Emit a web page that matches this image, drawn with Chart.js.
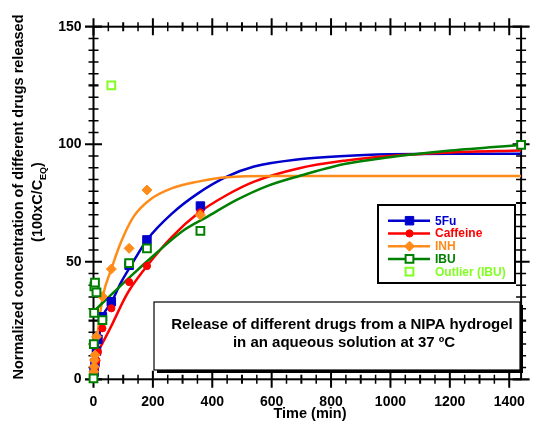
<!DOCTYPE html>
<html>
<head>
<meta charset="utf-8">
<script src="https://cdn.jsdelivr.net/npm/chart.js@4.4.1/dist/chart.umd.min.js"></script>
<style>
  html, body { margin: 0; padding: 0; background: #fff; }
  #wrap { width: 539px; height: 421px; }
</style>
</head>
<body>
<div id="wrap"><canvas id="c" width="539" height="421"></canvas></div>
<script>
// axis ticks
const xTicks = [0, 200, 400, 600, 800, 1000, 1200, 1400]
const yTicks = [0, 50, 100, 150]

// measured points (time in min, normalized conc.)
const fuTime = [2, 5, 10, 15, 30, 60, 120, 180, 360]
const fuVal = [3, 7, 12, 17, 26.6, 33, 48.5, 59.3, 73.7]
const cafTime = [2, 5, 10, 15, 30, 60, 120, 180, 360]
const cafVal = [2, 5, 8, 11.7, 21.7, 30.2, 41.4, 48.2, 71]
const inhTime = [1, 2, 3, 5, 10, 30, 60, 120, 180, 360]
const inhVal = [3.2, 5.4, 8.2, 10.3, 18.1, 35.2, 46.9, 55.7, 80.5, 69.9]
const ibuTime = [0, 1, 2, 3, 5, 10, 30, 120, 180, 360, 1440]
const ibuVal = [0.4, 15, 28.3, 39.5, 41.1, 37, 25.2, 49.4, 55.7, 63.1, 99.7]
const outTime = [60]
const outVal = [125]

// fitted curves
const fuFitT = [3, 10, 20, 31, 45, 61, 91, 124, 180, 265, 352, 449, 541, 693, 845, 997, 1200, 1440]
const fuFitV = [4, 9.6, 19, 26.6, 30, 33, 40.8, 47.9, 59.3, 70.6, 79.1, 86.2, 90.5, 93.6, 95, 95.7, 96, 96]
const cafFitT = [15, 59, 102, 121, 180, 265, 352, 449, 541, 693, 845, 997, 1200, 1440]
const cafFitV = [11.7, 22.4, 33.7, 38, 48.2, 60.7, 70.6, 78.4, 84.1, 89.8, 93, 95, 96.5, 97.3]
const inhFitT = [0, 10, 31.5, 59, 91, 135, 189, 265, 352, 449, 600, 1440]
const inhFitV = [1, 15, 35.2, 46.5, 57.9, 69.2, 76.3, 81.3, 84.1, 86, 86.5, 86.5]
const ibuFitT = [0, 59, 124, 211, 297, 384, 482, 580, 693, 845, 997, 1203, 1440]
const ibuFitV = [28.8, 35.9, 43.7, 53.6, 62.8, 69.2, 76.3, 82, 86.5, 91.6, 94.5, 97.3, 99.7]

const BLUE = "#0000cc", RED = "#ff0000", ORANGE = "#ff8c1a", GREEN = "#008000", LIME = "#80ff20"
const FONT = "'Liberation Sans', Arial, sans-serif"

const pts = (t, v) => t.map((x, i) => ({ x: x, y: v[i] }))

function fit(label, t, v, color, order) {
  return {
    label: label, data: pts(t, v), showLine: true, borderColor: color, borderWidth: 2.5,
    pointRadius: 0, cubicInterpolationMode: "monotone", order: order,
  }
}

// legend entries: [label, colour, pointStyle, filled, hasLine, radius]
const legendItems = [
  ["5Fu", BLUE, "rect", true, true, 6],
  ["Caffeine", RED, "circle", true, true, 3.6],
  ["INH", ORANGE, "rectRot", true, true, 5],
  ["IBU", GREEN, "rect", false, true, 5.5],
  ["Outlier (IBU)", LIME, "rect", false, false, 5.5],
]

// frame with ticks crossing the axes
const framePlugin = {
  id: "frame",
  beforeDatasetsDraw(chart) {
    const { ctx, chartArea: a, scales: { x, y } } = chart
    ctx.save()
    ctx.strokeStyle = "#000"
    ctx.lineWidth = 2
    ctx.strokeRect(a.left, a.top, a.right - a.left, a.bottom - a.top)
    for (let v = 0; v <= 1400; v += 50) {
      const px = x.getPixelForValue(v)
      const len = v % 200 === 0 ? 8.5 : 4.5
      ctx.lineWidth = v % 100 === 0 ? 2 : 1.5
      ctx.beginPath()
      ctx.moveTo(px, a.bottom - len); ctx.lineTo(px, a.bottom + len)
      ctx.moveTo(px, a.top - len); ctx.lineTo(px, a.top + len)
      ctx.stroke()
    }
    for (let v = 0; v <= 150; v += 5) {
      const py = y.getPixelForValue(v)
      const len = v % 50 === 0 ? 8.5 : 5
      ctx.lineWidth = v % 25 === 0 ? 2.2 : 1.5
      ctx.beginPath()
      ctx.moveTo(a.left - len, py); ctx.lineTo(a.left + len, py)
      ctx.moveTo(a.right - len, py); ctx.lineTo(a.right + len, py)
      ctx.stroke()
    }
    ctx.restore()
  },
  afterDraw(chart) {
    const ctx = chart.ctx
    ctx.save()
    ctx.fillStyle = "#000"
    ctx.textAlign = "center"
    ctx.textBaseline = "middle"
    // x title
    ctx.font = "bold 14.5px " + FONT
    ctx.fillText("Time (min)", 310, 414)
    // y title (two lines, rotated)
    ctx.save()
    ctx.translate(18.5, 197)
    ctx.rotate(-Math.PI / 2)
    ctx.fillText("Normalized concentration of different drugs released", 0, 0)
    ctx.restore()
    ctx.save()
    ctx.translate(38, 202)
    ctx.rotate(-Math.PI / 2)
    const p1 = "(100xC/C", p2 = "EQ", p3 = ")"
    ctx.font = "bold 14.5px " + FONT
    const w1 = ctx.measureText(p1).width, w3 = ctx.measureText(p3).width
    ctx.font = "bold 9px " + FONT
    const w2 = ctx.measureText(p2).width
    let sx = -(w1 + w2 + w3) / 2
    ctx.textAlign = "left"
    ctx.font = "bold 14.5px " + FONT
    ctx.fillText(p1, sx, 0)
    ctx.font = "bold 9px " + FONT
    ctx.fillText(p2, sx + w1, 6)
    ctx.font = "bold 14.5px " + FONT
    ctx.fillText(p3, sx + w1 + w2, 0)
    ctx.restore()

    // annotation box with shadow
    ctx.fillStyle = "#000"
    ctx.fillRect(157, 305, 366, 68)
    ctx.fillStyle = "#fff"
    ctx.fillRect(154, 302, 366, 68)
    ctx.strokeStyle = "#000"
    ctx.lineWidth = 1.2
    ctx.strokeRect(154, 302, 366, 68)
    ctx.fillStyle = "#000"
    ctx.textAlign = "center"
    ctx.font = "bold 15px " + FONT
    ctx.fillText("Release of different drugs from a NIPA hydrogel", 342, 325)
    ctx.fillText("in an aqueous solution at 37 \u00baC", 344, 343)

    // legend
    ctx.fillStyle = "#fff"
    ctx.fillRect(378, 205, 137, 78)
    ctx.strokeStyle = "#000"
    ctx.lineWidth = 2
    ctx.strokeRect(378, 205, 137, 78)
    ctx.font = "bold 12px " + FONT
    ctx.textAlign = "left"
    legendItems.forEach((it, i) => {
      const [label, color, style, filled, hasLine, r] = it
      const ly = 220.7 + i * 12.75
      if (hasLine) {
        ctx.strokeStyle = color
        ctx.lineWidth = 2.5
        ctx.beginPath(); ctx.moveTo(388, ly); ctx.lineTo(430, ly); ctx.stroke()
      }
      ctx.fillStyle = filled ? color : "#fff"
      ctx.strokeStyle = color
      ctx.lineWidth = filled ? 1 : 2
      Chart.helpers.drawPoint(ctx, { pointStyle: style, radius: r, borderWidth: ctx.lineWidth, rotation: 0 }, 409.5, ly)
      ctx.fillStyle = color
      ctx.fillText(label, 435, ly + 0.5)
    })
    ctx.restore()
  },
}

const ctx = document.getElementById("c").getContext("2d")
new Chart(ctx, {
  type: "scatter",
  data: {
    datasets: [
      { label: "Outlier (IBU)", data: pts(outTime, outVal), pointStyle: "rect", pointRadius: 5.5, borderWidth: 2,
        borderColor: LIME, backgroundColor: "#fff", clip: false, order: 0 },
      { label: "IBU", data: pts(ibuTime, ibuVal), pointStyle: "rect", pointRadius: 5.5, borderWidth: 2,
        borderColor: GREEN, backgroundColor: "#fff", clip: false, order: 1 },
      { label: "INH", data: pts(inhTime, inhVal), pointStyle: "rectRot", pointRadius: 5, borderWidth: 1,
        borderColor: ORANGE, backgroundColor: ORANGE, clip: false, order: 2 },
      { label: "Caffeine", data: pts(cafTime, cafVal), pointStyle: "circle", pointRadius: 3.6, borderWidth: 1,
        borderColor: RED, backgroundColor: RED, clip: false, order: 3 },
      { label: "5Fu", data: pts(fuTime, fuVal), pointStyle: "rect", pointRadius: 6, borderWidth: 1,
        borderColor: BLUE, backgroundColor: BLUE, clip: false, order: 4 },
      fit("IBU fit", ibuFitT, ibuFitV, GREEN, 5),
      fit("INH fit", inhFitT, inhFitV, ORANGE, 6),
      fit("Caffeine fit", cafFitT, cafFitV, RED, 7),
      fit("5Fu fit", fuFitT, fuFitV, BLUE, 8),
    ],
  },
  options: {
    responsive: false,
    animation: false,
    devicePixelRatio: 1,
    layout: { padding: { left: 0, top: 26.7, right: 3, bottom: 0 } },
    plugins: { legend: { display: false }, tooltip: { enabled: false } },
    scales: {
      x: {
        type: "linear", min: 0, max: 1440,
        grid: { display: false, drawTicks: false }, border: { display: false },
        afterBuildTicks: (s) => { s.ticks = xTicks.map((v) => ({ value: v })) },
        afterFit: (s) => { s.height = 41.7 },
        ticks: { color: "#000", padding: 14, maxRotation: 0, callback: (v) => String(v),
          font: { family: FONT, size: 14, weight: "bold" } },
      },
      y: {
        type: "linear", min: 0, max: 150,
        grid: { display: false, drawTicks: false }, border: { display: false },
        afterBuildTicks: (s) => { s.ticks = yTicks.map((v) => ({ value: v })) },
        afterFit: (s) => { s.width = 93.5 },
        ticks: { color: "#000", padding: 12, callback: (v) => String(v),
          font: { family: FONT, size: 14, weight: "bold" } },
      },
    },
  },
  plugins: [framePlugin],
})
</script>
</body>
</html>
